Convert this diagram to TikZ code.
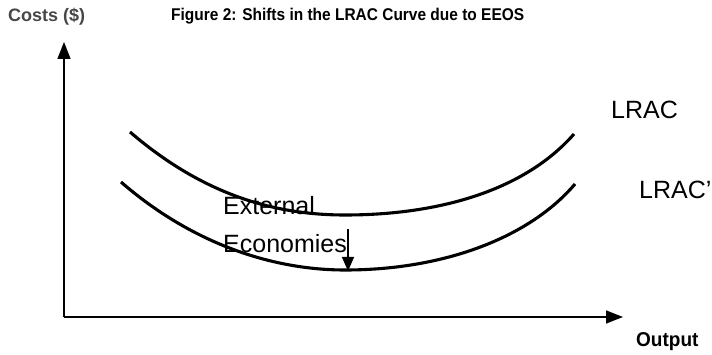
\documentclass[tikz,border=0pt]{standalone}
\usepackage{fontspec}
\setmainfont{Liberation Sans}
\usetikzlibrary{arrows.meta}
\begin{document}
\begin{tikzpicture}[x=1pt,y=-1pt,
  axis/.style={line width=1.5pt,-{Triangle[length=17pt,width=13pt]}},
  curve/.style={line width=3.1pt},
  lbl/.style={inner sep=0pt,anchor=west,font=\fontsize{25}{25}\selectfont},
  bold/.style={inner sep=0pt,anchor=west,font=\fontsize{17}{17}\selectfont\bfseries}]
\useasboundingbox (0,0) rectangle (712,355);
% axes
\coordinate (O) at (64,317);
\coordinate (Ytop) at (64,42);
\coordinate (Xend) at (623,317);
\draw[axis] (O) -- (Ytop);
\draw[axis] (O) -- (Xend);
% texts
\node[bold,text=black!72,font=\fontsize{18}{18}\selectfont\bfseries] (costs) at (8,17) {Costs (\$)};
\node[bold] (title) at (171,16) {\scalebox{0.91}[1]{Figure 2: Shifts in the LRAC Curve due to EEOS}};
\node[bold,font=\fontsize{20}{20}\selectfont\bfseries] (output) at (636,342) {\scalebox{0.95}[1]{Output}};
% curves
\coordinate (u1) at (130,132);
\coordinate (um) at (345,215);
\coordinate (u2) at (574,134);
\coordinate (l1) at (121,182);
\coordinate (lm) at (345,270);
\coordinate (l2) at (575,184);
\draw[curve] (u1) .. controls (200,192) and (270,215) .. (um) .. controls (440,215) and (525,190) .. (u2);
\draw[curve] (l1) .. controls (190,242) and (270,270) .. (lm) .. controls (445,270) and (530,237) .. (l2);
\node[lbl] (lrac) at (611,110) {LRAC};
\node[lbl] (lrac2) at (639,190) {LRAC'};
\node[lbl] (ext) at (223,206) {External};
\node[lbl] (eco) at (223,244) {Economies};
\coordinate (as) at (348,229);
\coordinate (ae) at (348,271);
\draw[line width=1.3pt,-{Triangle[length=14pt,width=12pt]}] (as) -- (ae);
\end{tikzpicture}
\end{document}
